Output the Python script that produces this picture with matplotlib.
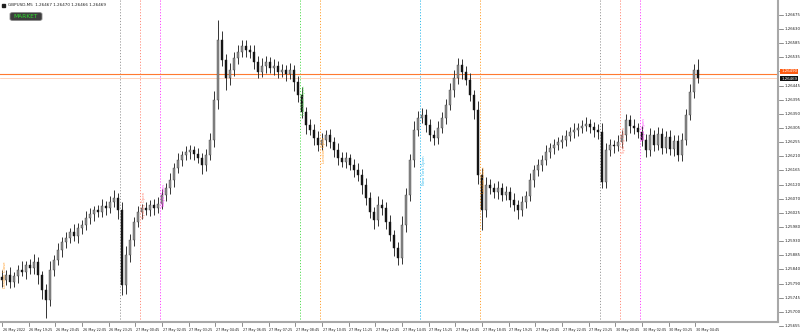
import numpy as np
import matplotlib.pyplot as plt
import matplotlib.transforms as mtransforms
from matplotlib.patches import FancyBboxPatch, Rectangle

# GBPUSD close prices, one candle = 12 minutes
closes = [
    1.25806, 1.25822, 1.25799, 1.25819, 1.25838, 1.25832, 1.25855, 1.25845, 1.25865, 1.25822,
    1.25773, 1.25740, 1.25838, 1.25871, 1.25904, 1.25930, 1.25944, 1.25963, 1.25950, 1.25976,
    1.25986, 1.26009, 1.26022, 1.26035, 1.26029, 1.26048, 1.26042, 1.26061, 1.26074, 1.26035,
    1.25789, 1.25888, 1.25937, 1.25996, 1.26029, 1.26042, 1.26035, 1.26052, 1.26042, 1.26055,
    1.26084, 1.26107, 1.26134, 1.26173, 1.26199, 1.26216, 1.26225, 1.26232, 1.26219, 1.26206,
    1.26183, 1.26216, 1.26265, 1.26396, 1.26593, 1.26527, 1.26468, 1.26494, 1.26534, 1.26553,
    1.26573, 1.26560, 1.26553, 1.26521, 1.26488, 1.26507, 1.26521, 1.26501, 1.26507, 1.26488,
    1.26494, 1.26481, 1.26494, 1.26455, 1.26412, 1.26357, 1.26314, 1.26298, 1.26271, 1.26248,
    1.26265, 1.26281, 1.26258, 1.26232, 1.26206, 1.26193, 1.26206, 1.26183, 1.26166, 1.26150,
    1.26117, 1.26075, 1.26029, 1.26002, 1.26052, 1.26042, 1.25996, 1.25953, 1.25911, 1.25878,
    1.25986, 1.26084, 1.26199, 1.26298, 1.26337, 1.26347, 1.26314, 1.26281, 1.26271, 1.26304,
    1.26337, 1.26380, 1.26429, 1.26468, 1.26511, 1.26488, 1.26462, 1.26412, 1.26363, 1.26150,
    1.26035, 1.26117, 1.26107, 1.26094, 1.26107, 1.26084, 1.26094, 1.26068, 1.26052, 1.26035,
    1.26061, 1.26081, 1.26134, 1.26166, 1.26183, 1.26199, 1.26225, 1.26238, 1.26248, 1.26258,
    1.26265, 1.26278, 1.26291, 1.26298, 1.26304, 1.26311, 1.26317, 1.26307, 1.26298, 1.26291,
    1.26127, 1.26232, 1.26248, 1.26245, 1.26258, 1.26281, 1.26330, 1.26311, 1.26304, 1.26291,
    1.26265, 1.26232, 1.26281, 1.26248, 1.26285, 1.26240, 1.26275, 1.26235, 1.26262, 1.26215,
    1.26265, 1.26347, 1.26422, 1.26494, 1.26469,
]
first_open = 1.25815

# wick lengths above / below the body, in points (0.00001)
wick_up = [
    22, 15, 28, 12, 18, 30, 14, 20, 25, 16,
    12, 20, 30, 18, 24, 16, 20, 14, 26, 18,
    16, 24, 20, 14, 18, 22, 16, 20, 28, 18,
    25, 30, 20, 16, 18, 14, 20, 16, 18, 24,
    20, 16, 24, 18, 22, 14, 20, 16, 12, 18,
    16, 20, 24, 30, 65, 28, 20, 24, 18, 22,
    20, 20, 16, 24, 18, 28, 20, 16, 22, 18,
    20, 16, 24, 18, 20, 28, 16, 20, 18, 24,
    22, 18, 20, 16, 24, 18, 20, 14, 18, 22,
    20, 24, 18, 16, 28, 20, 18, 22, 16, 20,
    30, 24, 20, 28, 22, 24, 18, 20, 16, 24,
    20, 18, 24, 28, 23, 20, 18, 24, 16, 30,
    24, 28, 20, 18, 22, 16, 20, 18, 24, 16,
    20, 18, 24, 16, 20, 18, 22, 16, 20, 18,
    16, 20, 18, 24, 16, 20, 22, 18, 16, 20,
    28, 24, 20, 18, 22, 17, 20, 18, 24, 16,
    20, 18, 24, 16, 22, 18, 20, 24, 18, 20,
    24, 20, 28, 20, 35,
]
wick_dn = [
    24, 18, 20, 16, 22, 14, 24, 18, 20, 28,
    30, 59, 20, 18, 16, 24, 20, 18, 16, 22,
    18, 16, 20, 24, 18, 16, 22, 18, 16, 28,
    33, 30, 24, 20, 18, 22, 16, 20, 24, 18,
    16, 20, 18, 22, 16, 20, 18, 24, 20, 16,
    28, 20, 18, 24, 28, 20, 39, 24, 18, 20,
    16, 22, 18, 24, 20, 16, 22, 18, 24, 20,
    18, 22, 16, 28, 24, 20, 30, 18, 24, 20,
    16, 20, 18, 24, 22, 18, 20, 16, 24, 20,
    28, 24, 20, 30, 18, 22, 24, 20, 28, 23,
    20, 24, 18, 22, 20, 16, 24, 18, 22, 20,
    16, 20, 18, 22, 20, 24, 18, 20, 28, 30,
    65, 24, 20, 18, 22, 20, 16, 24, 20, 28,
    18, 20, 16, 22, 18, 20, 16, 18, 20, 16,
    18, 20, 16, 18, 20, 16, 18, 20, 22, 24,
    20, 20, 18, 22, 16, 20, 18, 22, 20, 18,
    20, 24, 18, 20, 16, 22, 18, 20, 24, 19,
    20, 18, 16, 20, 18,
]

bar_minutes = 12
label_step_min = 80
time_labels = ["26 May 2022", "26 May 19:25", "26 May 20:45", "26 May 22:05", "26 May 23:25",
               "27 May 00:45", "27 May 02:05", "27 May 03:25", "27 May 04:45", "27 May 06:05",
               "27 May 07:25", "27 May 08:45", "27 May 10:05", "27 May 11:25", "27 May 12:45",
               "27 May 14:05", "27 May 15:25", "27 May 16:45", "27 May 18:05", "27 May 19:25",
               "27 May 20:45", "27 May 22:05", "27 May 23:25", "30 May 00:45", "30 May 02:05",
               "30 May 03:25", "30 May 04:45"]

price_labels = ["1.25655", "1.25700", "1.25745", "1.25790", "1.25840", "1.25885", "1.25930",
                "1.25980", "1.26025", "1.26070", "1.26120", "1.26165", "1.26210", "1.26255",
                "1.26305", "1.26350", "1.26395", "1.26445", "1.26490", "1.26535", "1.26585",
                "1.26630", "1.26675"]
line_price = "1.26490"
bid_price = "1.26469"

# session lines: minutes after first bar (26 May 18:05)
event_minutes = [355, 415, 475, 895, 955, 1255, 1435, 1795, 1855, 1915]
event_colors = ['#9a9a9a', '#ff8c7a', '#ff44ff', '#55dd55', '#ffa030',
                '#33bbee', '#ffa030', '#9a9a9a', '#ff8c7a', '#ff44ff']
event_texts = [None, 'Sydney Open', 'Tokyo Open', 'Frankfurt Open', 'London Open',
               'New York Open', 'London Close', None, 'Sydney Open', 'Tokyo Open']
event_text_prices = [None, 1.26052, 1.26084, 1.26396, 1.26232,
                     1.26166, 1.26134, None, 1.26265, 1.26298]

closes = np.array(closes)
opens = np.concatenate([[first_open], closes[:-1]])
highs = np.maximum(opens, closes) + np.array(wick_up) * 1e-5
lows = np.minimum(opens, closes) - np.array(wick_dn) * 1e-5
x = np.arange(len(closes))

fig = plt.figure(figsize=(8, 3.36), dpi=100)
ax = fig.add_axes([0, 14 / 336, 778 / 800, 322 / 336])
ax.set_xlim(-0.5, 194)
ax.set_ylim(1.25668, 1.26724)

# session lines
for m, c in zip(event_minutes, event_colors):
    ax.axvline(m / bar_minutes, color=c, ls=(0, (1.2, 1.8)), lw=0.7, zorder=1)
for m, c, t, p in zip(event_minutes, event_colors, event_texts, event_text_prices):
    if t:
        ax.text(m / bar_minutes + 0.5, p, t, rotation=90, color=c, fontsize=2.8,
                ha='left', va='center', zorder=4)
ax.text(0.3, 1.25822, 'London Close', rotation=90, color='#ffa030', fontsize=2.8,
        ha='left', va='center', zorder=4)

# price lines
ax.axhline(1.26482, color='#ff7a30', lw=0.8, zorder=2)
ax.axhline(1.26469, color='#ffc0a0', lw=0.5, zorder=2)

# candles
up = closes >= opens
ax.vlines(x, lows, highs, color='#333333', lw=0.7, zorder=3)
ax.bar(x[up], (closes - opens)[up], bottom=opens[up], width=0.7,
       color='#8c8c8c', edgecolor='#444444', lw=0.3, zorder=3)
ax.bar(x[~up], (closes - opens)[~up], bottom=opens[~up], width=0.7,
       color='#151515', edgecolor='#151515', lw=0.3, zorder=3)

for s in ['left', 'top']:
    ax.spines[s].set_visible(False)
for s in ['right', 'bottom']:
    ax.spines[s].set_color('#a8a8a8')
    ax.spines[s].set_linewidth(1.5)
ax.set_xticks([])
ax.set_yticks([])

# price scale
ytr = mtransforms.blended_transform_factory(ax.transAxes, ax.transData)
for p, lab in zip(np.linspace(1.25655, 1.26675, len(price_labels)), price_labels):
    ax.plot([1.001, 1.006], [p, p], transform=ytr, clip_on=False, color='#606060', lw=0.5)
    if lab == line_price:
        continue  # hidden behind the price box
    ax.text(1.008, p, lab, transform=ytr, fontsize=2.8, ha='left', va='center',
            color='#202020', clip_on=False)
ax.text(1.004, float(line_price), line_price, transform=ytr, fontsize=2.8, ha='left',
        va='center', color='white', clip_on=False, zorder=6,
        bbox=dict(boxstyle='square,pad=0.2', fc='#ff5a10', ec='none'))
ax.text(1.004, float(bid_price) - 0.00003, bid_price, transform=ytr, fontsize=2.8, ha='left',
        va='center', color='white', clip_on=False, zorder=6,
        bbox=dict(boxstyle='square,pad=0.2', fc='#101010', ec='none'))

# time scale
xtr = mtransforms.blended_transform_factory(ax.transData, ax.transAxes)
for k, lab in enumerate(time_labels):
    tx = k * label_step_min / bar_minutes
    ax.plot([tx, tx], [0, -0.012], transform=xtr, clip_on=False, color='#606060', lw=0.5)
    ax.text(tx + 0.15, -0.026, lab, transform=xtr, fontsize=2.45, ha='left', va='center',
            color='#202020', clip_on=False)

# header
fig.patches.append(Rectangle((2 / 800, 1 - 7 / 336), 3 / 800, 3 / 336,
                             transform=fig.transFigure, color='#202020'))
fig.text(8 / 800, 1 - 5.5 / 336, 'GBPUSD,M5  1.26467 1.26470 1.26466 1.26469',
         fontsize=3.0, ha='left', va='center', color='#202020')
fig.patches.append(FancyBboxPatch((10 / 800, 1 - 20.5 / 336), 32 / 800, 8 / 336,
                                  boxstyle='round,pad=0,rounding_size=0.004',
                                  transform=fig.transFigure, fc='#3d3d3d', ec='#8a8a8a', lw=0.6))
fig.text(26 / 800, 1 - 16.5 / 336, 'MARKET', fontsize=4.2, ha='center', va='center',
         color='#2ee02e')

fig.savefig('out.png', dpi=100, facecolor='white')
